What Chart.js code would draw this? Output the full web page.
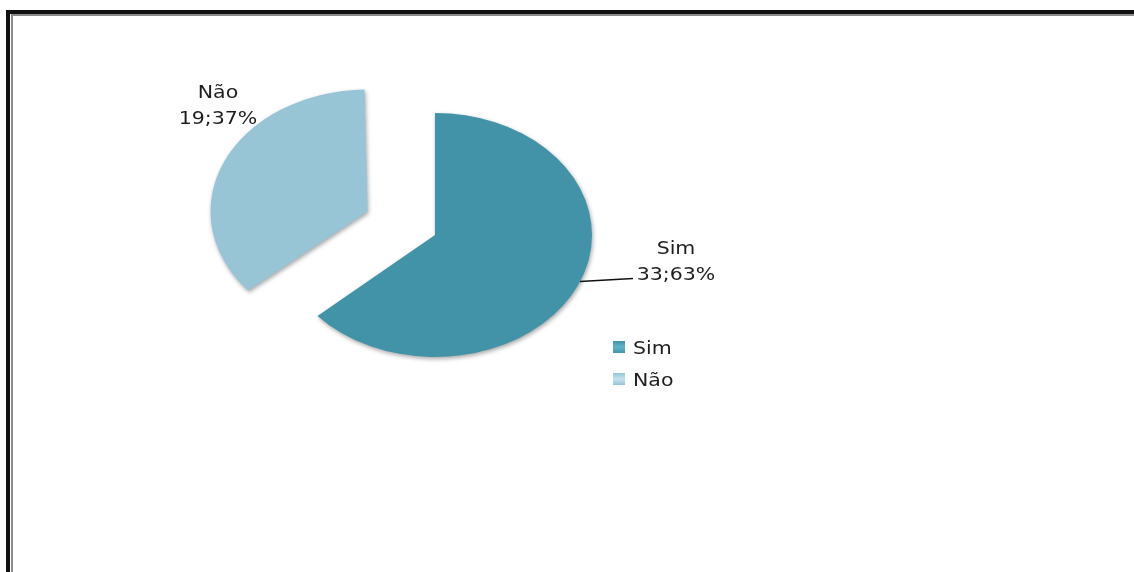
<!DOCTYPE html>
<html>
<head>
<meta charset="utf-8">
<script src="https://cdn.jsdelivr.net/npm/chart.js@4/dist/chart.umd.min.js"></script>
<style>
  html, body { margin: 0; padding: 0; background: #fff; overflow: hidden; }
  .frame-outer { position: absolute; left: 6px; top: 10px; width: 2000px; height: 1000px;
    border-left: 4px solid #111; border-top: 4px solid #111; }
  .frame-inner { position: absolute; left: 11px; top: 14px; width: 2000px; height: 1000px;
    border-left: 2px solid #8c8c8c; border-top: 2px solid #8c8c8c; }
  #chart { position: absolute; left: 0; top: 0; }
</style>
</head>
<body>
<div class="frame-outer"></div>
<div class="frame-inner"></div>
<canvas id="chart" width="1134" height="572"></canvas>
<script>
const categories = ['Sim', 'Não'];
const counts = [33, 19];
const sliceColors = ['#4393a8', '#97c5d6'];
const explode = [0, 296]; // Chart.js moves a slice by offset / 4

const RADIUS = 157;
const FONT = '18px "DejaVu Sans"';
const STRETCH = 1.14;   // the original text is a bit wider than DejaVu
const TILT = 0.777;     // pie is seen at an angle, so it is squashed vertically

const total = counts.reduce((a, b) => a + b, 0);
const pct = counts.map((v) => Math.round((v / total) * 100));

const drawText = (ctx, text, x, y, align) => {
  ctx.save();
  ctx.translate(x, y);
  ctx.scale(STRETCH, 1);
  ctx.textAlign = align;
  ctx.fillText(text, 0, 0);
  ctx.restore();
};

const tiltPlugin = {
  id: 'tilt',
  beforeDatasetsDraw(chart) {
    const ctx = chart.ctx;
    const arcs = chart.getDatasetMeta(0).data;
    // an exploded arc gets a bigger radius in Chart.js; keep all slices the same size
    arcs.forEach((arc, i) => {
      const grow = (explode[i] / 4) * (1 - Math.sin(Math.min(Math.PI, arc.circumference)));
      arc.outerRadius = RADIUS - grow;
    });
    ctx.save();
    ctx.translate(0, arcs[0].y);
    ctx.scale(1, TILT);
    ctx.translate(0, -arcs[0].y);
    ctx.shadowColor = 'rgba(0, 0, 0, 0.35)';
    ctx.shadowBlur = 4;
    ctx.shadowOffsetX = 1;
    ctx.shadowOffsetY = 2;
  },
  afterDatasetsDraw(chart) {
    chart.ctx.restore();
  },
};

const labelPlugin = {
  id: 'labels',
  afterDraw(chart) {
    const ctx = chart.ctx;
    ctx.save();
    ctx.font = FONT;
    ctx.fillStyle = '#1e1e1e';
    ctx.textBaseline = 'alphabetic';

    // data labels
    drawText(ctx, categories[1], 218, 98, 'center');
    drawText(ctx, counts[1] + ';' + pct[1] + '%', 218, 124, 'center');
    drawText(ctx, categories[0], 676, 254, 'center');
    drawText(ctx, counts[0] + ';' + pct[0] + '%', 676, 280, 'center');

    // leader line for Sim
    ctx.strokeStyle = '#111';
    ctx.lineWidth = 1.5;
    ctx.beginPath();
    ctx.moveTo(580, 281.5);
    ctx.lineTo(633, 278.5);
    ctx.stroke();

    // legend
    const legendY = [347, 379];
    categories.forEach((name, i) => {
      const y = legendY[i];
      const g = ctx.createLinearGradient(613, y - 6, 613, y + 6);
      g.addColorStop(0, sliceColors[i]);
      g.addColorStop(0.5, i === 0 ? '#5fb3c8' : '#c4e3ee');
      g.addColorStop(1, sliceColors[i]);
      ctx.fillStyle = g;
      ctx.fillRect(613, y - 6, 12, 12);
      ctx.fillStyle = '#1e1e1e';
      drawText(ctx, name, 633, y + 7, 'left');
    });
    ctx.restore();
  },
};

new Chart(document.getElementById('chart'), {
  type: 'pie',
  data: {
    labels: categories,
    datasets: [
      {
        data: counts,
        backgroundColor: sliceColors,
        borderWidth: 0,
        offset: explode,
      },
    ],
  },
  options: {
    responsive: false,
    animation: false,
    radius: RADIUS,
    layout: { padding: { left: 235, right: 499, top: 35, bottom: 137 } },
    plugins: {
      legend: { display: false },
      tooltip: { enabled: false },
    },
  },
  plugins: [tiltPlugin, labelPlugin],
});
</script>
</body>
</html>
